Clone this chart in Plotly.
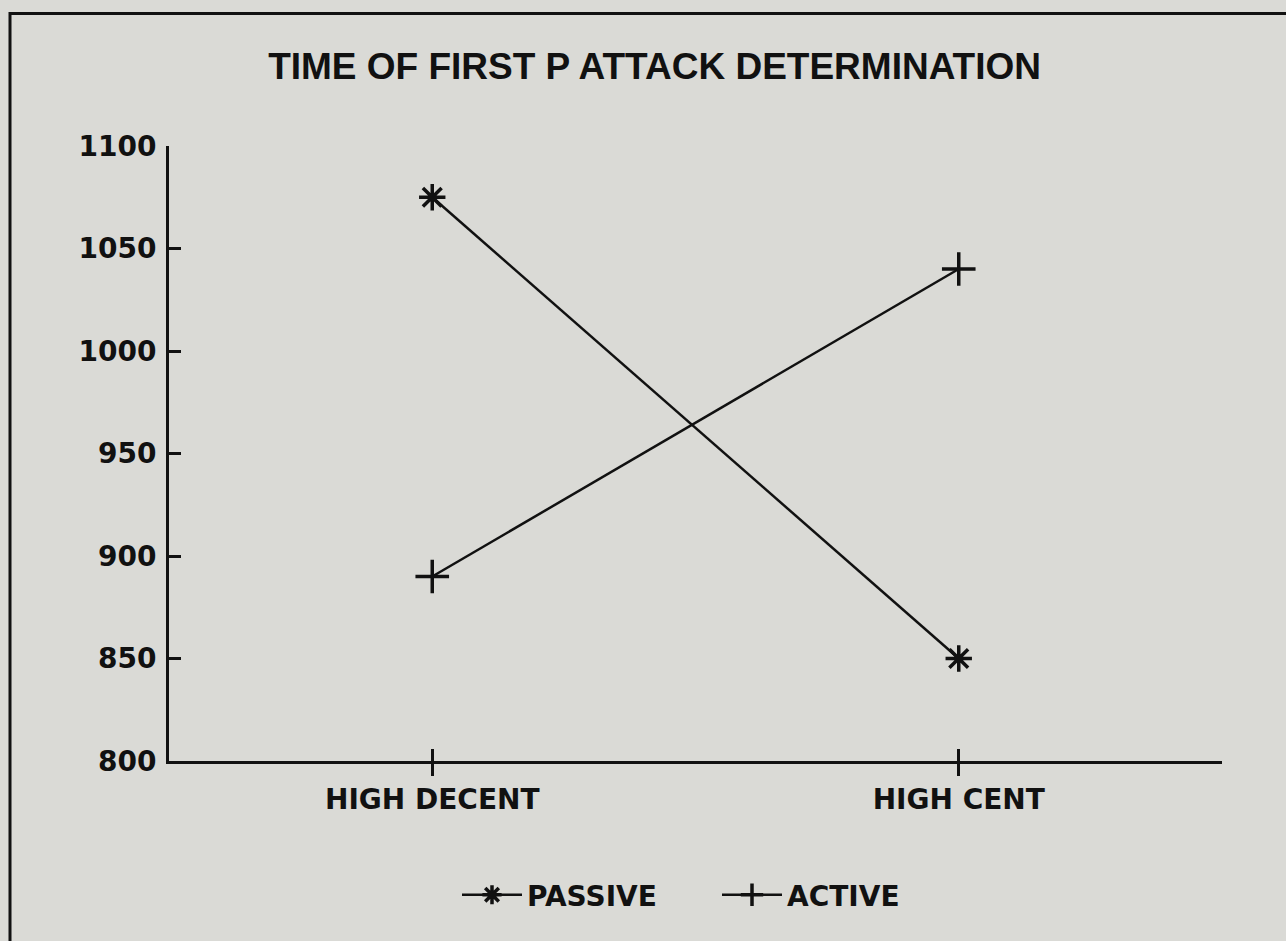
import plotly.graph_objects as go

CATEGORIES = ["HIGH DECENT", "HIGH CENT"]
PASSIVE = [1075, 850]
ACTIVE = [890, 1040]
Y_TICKS = [800, 850, 900, 950, 1000, 1050, 1100]

BG = "#dadad6"
INK = "#111111"
TITLE_FONT = dict(family="Liberation Sans, Arial, sans-serif", color=INK, weight="bold", size=37)
LABEL_FONT = dict(family="DejaVu Sans, Verdana, sans-serif", color=INK, weight="bold", size=28)

fig = go.Figure()

fig.add_trace(go.Scatter(
    x=CATEGORIES, y=PASSIVE, name="PASSIVE",
    mode="lines+markers",
    line=dict(color=INK, width=2.5),
    marker=dict(symbol="asterisk-open", size=22, line=dict(color=INK, width=3.5)),
))
fig.add_trace(go.Scatter(
    x=CATEGORIES, y=ACTIVE, name="ACTIVE",
    mode="lines+markers",
    line=dict(color=INK, width=2.5),
    marker=dict(symbol="cross-thin-open", size=24, line=dict(color=INK, width=3.5)),
))
# invisible helper so the overlay axis (upper half of the x ticks) exists
fig.add_trace(go.Scatter(
    x=CATEGORIES, y=PASSIVE, xaxis="x2", mode="lines",
    line=dict(width=0), opacity=0, showlegend=False, hoverinfo="skip",
))

xaxis_common = dict(
    type="category", categoryorder="array", categoryarray=CATEGORIES,
    range=[-0.5, 1.5], ticklen=12, tickwidth=2.5, tickcolor=INK,
    showgrid=False, zeroline=False,
)

fig.update_layout(
    width=1286, height=941,
    paper_bgcolor=BG, plot_bgcolor=BG,
    margin=dict(l=169, r=64, t=146, b=180),
    font=LABEL_FONT,
    title=dict(
        text="TIME OF FIRST P ATTACK DETERMINATION",
        font=TITLE_FONT,
        x=0.509, xanchor="center", xref="container",
        y=1 - 66 / 941, yanchor="middle", yref="container",
    ),
    xaxis=dict(
        **xaxis_common, ticks="outside",
        showline=True, linecolor=INK, linewidth=2.5,
        tickfont=LABEL_FONT, ticklabelstandoff=0,
    ),
    xaxis2=dict(
        **xaxis_common, ticks="inside", overlaying="x",
        side="bottom", showticklabels=False, showline=False,
    ),
    yaxis=dict(
        range=[800, 1100], tickvals=Y_TICKS, ticks="inside",
        ticklen=12, tickwidth=2.5, tickcolor=INK,
        showline=True, linecolor=INK, linewidth=3,
        showgrid=False, zeroline=False,
        tickfont=LABEL_FONT, ticklabelstandoff=4,
    ),
    legend=dict(
        orientation="h", x=(457 - 169) / 1053, xanchor="left",
        y=-0.218, yanchor="middle",
        bgcolor="rgba(0,0,0,0)", font=LABEL_FONT,
        itemwidth=60, entrywidth=185,
    ),
    showlegend=True,
    shapes=[dict(
        type="rect", xref="paper", yref="paper",
        x0=(10 - 169) / 1053, x1=1.2, y0=-0.5, y1=1 + (146 - 13.5) / 615,
        line=dict(color=INK, width=3), layer="above",
    )],
)

fig.write_html(
    "out.html",
    config={"displayModeBar": False},
    post_script=f"document.body.style.margin='0';document.body.style.background='{BG}';",
)
